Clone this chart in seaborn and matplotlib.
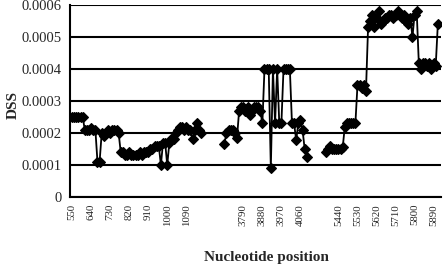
import numpy as np
import pandas as pd
import matplotlib
matplotlib.use("Agg")
import matplotlib.pyplot as plt
import seaborn as sns

# category index where each data segment starts (one category = 10 nt)
seg1_start = 0
seg1 = [0.00025, 0.00025, 0.00025, 0.00025, 0.00025, 0.00025,
        0.00021, 0.00021, 0.00021, 0.000215, 0.00021, 0.00021,
        0.00011, 0.00011,
        0.00020, 0.00019, 0.00020, 0.00021, 0.00020, 0.00021, 0.00021, 0.00021, 0.00020,
        0.00014, 0.00014, 0.00013, 0.00013, 0.00014, 0.00013, 0.00013, 0.00013,
        0.00013, 0.00014, 0.00013, 0.00014, 0.00014, 0.00014,
        0.00015, 0.00015, 0.00016, 0.00016, 0.00016,
        0.00010, 0.00017, 0.00017, 0.00010,
        0.00017, 0.00018, 0.00018, 0.00020, 0.00021,
        0.00022, 0.00022, 0.00021, 0.00022, 0.00021, 0.00021,
        0.00018, 0.00021, 0.00023, 0.00021, 0.00020]

seg2_start = 72
seg2 = [0.000165, 0.00020, 0.00021, 0.00021, 0.00021, 0.00020, 0.000185,
        0.00027, 0.00028, 0.00028, 0.00027, 0.00028, 0.000255,
        0.00027, 0.00028, 0.00028, 0.00028, 0.00027, 0.00023,
        0.00040, 0.00040, 0.00040, 0.00009, 0.00040, 0.00023, 0.00040,
        0.00023, 0.00023, 0.00040, 0.00040, 0.00040, 0.00040,
        0.00023, 0.00023, 0.000178, 0.00023, 0.00024, 0.00021, 0.00015, 0.000125]

seg3_start = 120
seg3 = [0.00014, 0.00015, 0.00016, 0.00015, 0.00015, 0.00015, 0.00015, 0.00015, 0.000155,
        0.00022, 0.00023, 0.00023, 0.00023, 0.00023, 0.00023,
        0.00035, 0.00035, 0.00034, 0.00035, 0.00033,
        0.00053, 0.00055, 0.00057, 0.00053, 0.00056, 0.00058, 0.00054, 0.00055,
        0.00056, 0.00056, 0.00057, 0.00057, 0.00056, 0.00057, 0.00058, 0.00057,
        0.00056, 0.00057, 0.00055, 0.00054, 0.00056, 0.00050, 0.00057, 0.00058,
        0.00042, 0.00040, 0.00042, 0.00042, 0.00041, 0.00042, 0.00040, 0.00042,
        0.00041, 0.00054]

label_step = 9
tick_labels = ["550", "640", "730", "820", "910", "1000", "1090", "", "",
               "3790", "3880", "3970", "4060", "",
               "5440", "5530", "5620", "5710", "5800", "5890"]
y_ticks = [0, 0.0001, 0.0002, 0.0003, 0.0004, 0.0005, 0.0006]
y_tick_labels = ["0", "0.0001", "0.0002", "0.0003", "0.0004", "0.0005", "0.0006"]

rows = []
for seg_id, (start, vals) in enumerate([(seg1_start, seg1), (seg2_start, seg2), (seg3_start, seg3)]):
    for j, v in enumerate(vals):
        rows.append({"pos": start + j, "dss": v, "segment": seg_id})
df = pd.DataFrame(rows)

sns.set_style("white")
plt.rcParams["font.family"] = ["Liberation Serif", "DejaVu Serif"]

W, H = 444, 266
fig = plt.figure(figsize=(W / 100, H / 100), dpi=100)
ax = fig.add_axes([70 / W, 1 - 197 / H, (441 - 70) / W, (197 - 5) / H])

sns.lineplot(data=df, x="pos", y="dss", units="segment", estimator=None,
             color="black", marker="D", markersize=5, linewidth=1.3,
             markeredgecolor="black", markeredgewidth=0.8, ax=ax, legend=False)

ax.set_xlim(-1, 174.5)
ax.set_ylim(0, 0.0006)
ax.set_yticks(y_ticks)
ax.set_yticklabels(y_tick_labels, fontsize=10.5)
ax.set_xticks([label_step * k for k in range(len(tick_labels))])
ax.set_xticklabels(tick_labels, rotation=90, fontsize=7.8)
ax.tick_params(axis="x", length=0, pad=5)
ax.tick_params(axis="y", length=3, width=1.2, direction="out", color="black", pad=3)
ax.grid(axis="y", color="black", linewidth=1.5)
ax.grid(axis="x", visible=False)
ax.set_axisbelow(True)
for s in ["top", "right"]:
    ax.spines[s].set_visible(False)
for s in ["left", "bottom"]:
    ax.spines[s].set_color("black")
    ax.spines[s].set_linewidth(1.5)
ax.set_xlabel("")
ax.set_ylabel("")

fig.text(13 / W, 1 - 105 / H, "DSS", rotation=90, ha="center", va="center",
         fontweight="bold", fontsize=11)
fig.text(266 / W, 1 - 258 / H, "Nucleotide position", ha="center", va="center",
         fontweight="bold", fontsize=11)

fig.savefig("out.png", dpi=100)
